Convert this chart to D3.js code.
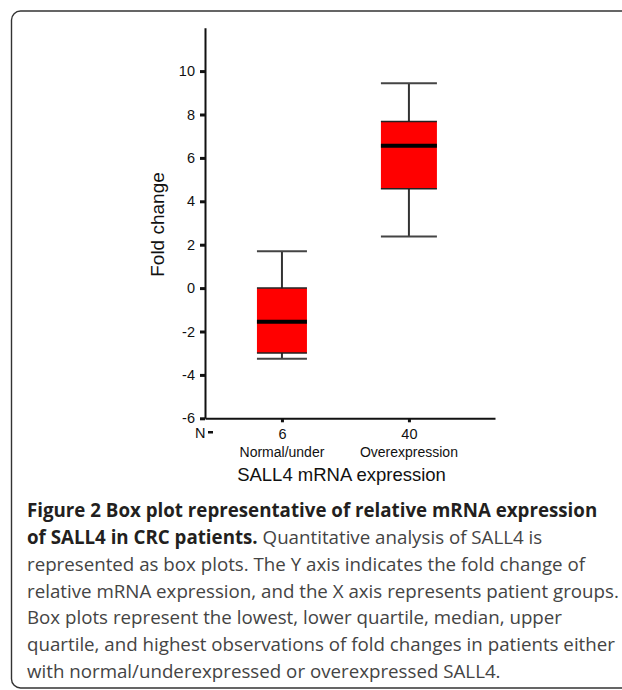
<!DOCTYPE html>
<html>
<head>
<meta charset="utf-8">
<script src="https://cdn.jsdelivr.net/npm/d3@7"></script>
<style>
  body { margin: 0; background: #fff; }
  svg { display: block; }
</style>
</head>
<body>
<div id="chart"></div>
<script>
// Box plot values (fold change).
var groups = ["Normal/under", "Overexpression"];
var nCounts = ["6", "40"];
var mins = [-3.26, 2.38];
var q1s = [-2.99, 4.58];
var medians = [-1.55, 6.56];
var q3s = [0.0, 7.68];
var maxs = [1.70, 9.44];
var yTicks = [-6, -4, -2, 0, 2, 4, 6, 8, 10];

var captionLines = [
  [["b", "Figure 2 Box plot representative of relative mRNA expression"]],
  [["b", "of SALL4 in CRC patients."], ["r", " Quantitative analysis of SALL4 is"]],
  [["r", "represented as box plots. The Y axis indicates the fold change of"]],
  [["r", "relative mRNA expression, and the X axis represents patient groups."]],
  [["r", "Box plots represent the lowest, lower quartile, median, upper"]],
  [["r", "quartile, and highest observations of fold changes in patients either"]],
  [["r", "with normal/underexpressed or overexpressed SALL4."]]
];

var width = 622, height = 690;
var plot = { left: 205, right: 495, top: 27.7, bottom: 418.3 };
var boxWidths = [50, 56];
var chartFont = "'Liberation Sans', Arial, sans-serif";

var svg = d3.select('#chart')
  .append('svg')
  .attr('width', width)
  .attr('height', height);

// Rounded frame round figure + caption; the right side runs off the page.
svg.append('rect')
  .attr('x', 11.5)
  .attr('y', 11)
  .attr('width', 640)
  .attr('height', 677)
  .attr('rx', 9)
  .attr('fill', 'none')
  .attr('stroke', '#333')
  .attr('stroke-width', 1.4);

var y = d3.scaleLinear().domain([-6, 12]).range([plot.bottom, plot.top]);
var x = d3.scalePoint().domain(groups).range([plot.left, plot.right])
  .padding(0.642).align(0.472);

// Y axis (plain hyphen for negatives, as in the figure)
var yAxis = svg.append('g')
  .attr('transform', 'translate(' + plot.left + ',0)')
  .call(d3.axisLeft(y).tickValues(yTicks).tickSize(5).tickSizeOuter(0).tickPadding(5)
    .tickFormat(function(d) { return String(d); }));
yAxis.select('.domain').attr('stroke', '#111').attr('stroke-width', 2);
yAxis.selectAll('.tick line').attr('stroke', '#111').attr('stroke-width', 3);
yAxis.selectAll('.tick text')
  .attr('font-family', chartFont)
  .attr('font-size', 14.5)
  .attr('fill', '#111');

// X axis, tick labels are the N counts
var xAxis = svg.append('g')
  .attr('transform', 'translate(0,' + plot.bottom + ')')
  .call(d3.axisBottom(x).tickSize(4).tickSizeOuter(0).tickPadding(6)
    .tickFormat(function(d, i) { return nCounts[i]; }));
xAxis.select('.domain').attr('stroke', '#111').attr('stroke-width', 2);
xAxis.selectAll('.tick line').attr('stroke', '#111').attr('stroke-width', 3);
xAxis.selectAll('.tick text')
  .attr('font-family', chartFont)
  .attr('font-size', 14.5)
  .attr('fill', '#111');

svg.append('text')
  .attr('x', plot.left - 10)
  .attr('y', 437.5)
  .attr('font-family', chartFont)
  .attr('font-size', 14.5)
  .attr('fill', '#111')
  .text('N');
svg.append('rect')
  .attr('x', plot.left + 3)
  .attr('y', 431)
  .attr('width', 5)
  .attr('height', 2.5)
  .attr('fill', '#111');

// Group names under the N counts
svg.selectAll('.grp')
  .data(groups)
  .enter()
  .append('text')
  .attr('class', 'grp')
  .attr('x', function(d) { return x(d); })
  .attr('y', 456.5)
  .attr('text-anchor', 'middle')
  .attr('font-family', chartFont)
  .attr('font-size', 14)
  .attr('fill', '#111')
  .text(function(d) { return d; });

svg.append('text')
  .attr('x', 341.5)
  .attr('y', 481)
  .attr('text-anchor', 'middle')
  .attr('font-family', chartFont)
  .attr('font-size', 18.5)
  .attr('fill', '#111')
  .text('SALL4 mRNA expression');

svg.append('text')
  .attr('transform', 'translate(164,224.5) rotate(-90)')
  .attr('text-anchor', 'middle')
  .attr('font-family', chartFont)
  .attr('font-size', 19)
  .attr('fill', '#111')
  .text('Fold change');

// Boxes
var boxes = svg.selectAll('.box')
  .data(groups)
  .enter()
  .append('g')
  .attr('class', 'box');

// whiskers
boxes.append('line')
  .attr('x1', function(d) { return x(d); })
  .attr('x2', function(d) { return x(d); })
  .attr('y1', function(d, i) { return y(maxs[i]); })
  .attr('y2', function(d, i) { return y(mins[i]); })
  .attr('stroke', '#333')
  .attr('stroke-width', 2);

[maxs, mins].forEach(function(arr) {
  boxes.append('line')
    .attr('x1', function(d, i) { return x(d) - boxWidths[i] / 2; })
    .attr('x2', function(d, i) { return x(d) + boxWidths[i] / 2; })
    .attr('y1', function(d, i) { return y(arr[i]); })
    .attr('y2', function(d, i) { return y(arr[i]); })
    .attr('stroke', '#444')
    .attr('stroke-width', 2);
});

boxes.append('rect')
  .attr('x', function(d, i) { return x(d) - boxWidths[i] / 2; })
  .attr('width', function(d, i) { return boxWidths[i]; })
  .attr('y', function(d, i) { return y(q3s[i]); })
  .attr('height', function(d, i) { return y(q1s[i]) - y(q3s[i]); })
  .attr('fill', '#ff0000');

[q3s, q1s].forEach(function(arr) {
  boxes.append('line')
    .attr('x1', function(d, i) { return x(d) - boxWidths[i] / 2; })
    .attr('x2', function(d, i) { return x(d) + boxWidths[i] / 2; })
    .attr('y1', function(d, i) { return y(arr[i]); })
    .attr('y2', function(d, i) { return y(arr[i]); })
    .attr('stroke', '#222')
    .attr('stroke-width', 1.5);
});

// median
boxes.append('line')
  .attr('x1', function(d, i) { return x(d) - boxWidths[i] / 2; })
  .attr('x2', function(d, i) { return x(d) + boxWidths[i] / 2; })
  .attr('y1', function(d, i) { return y(medians[i]); })
  .attr('y2', function(d, i) { return y(medians[i]); })
  .attr('stroke', '#000')
  .attr('stroke-width', 4);

// Caption
var caption = svg.append('g').attr('font-family', "'Open Sans', 'Noto Sans', sans-serif");
var capSize = 16.5;
var capLines = caption.selectAll('text')
  .data(captionLines)
  .enter()
  .append('text')
  .attr('x', 27)
  .attr('y', function(d, i) { return 516.8 + i * 26.9; })
  .attr('font-size', capSize);

capLines.selectAll('tspan')
  .data(function(d) { return d; })
  .enter()
  .append('tspan')
  .attr('font-weight', function(d) { return d[0] === 'b' ? 'bold' : 'normal'; })
  .attr('fill', function(d) { return d[0] === 'b' ? '#231f20' : '#444'; })
  .text(function(d) { return d[1]; });

// Fit font size so the longest plain line ends where it does in the figure.
var longest = capLines.filter(function(d, i) { return i === 5; }).node().getComputedTextLength();
capSize = capSize * 588 / longest;
capLines.attr('font-size', capSize);
</script>
</body>
</html>
